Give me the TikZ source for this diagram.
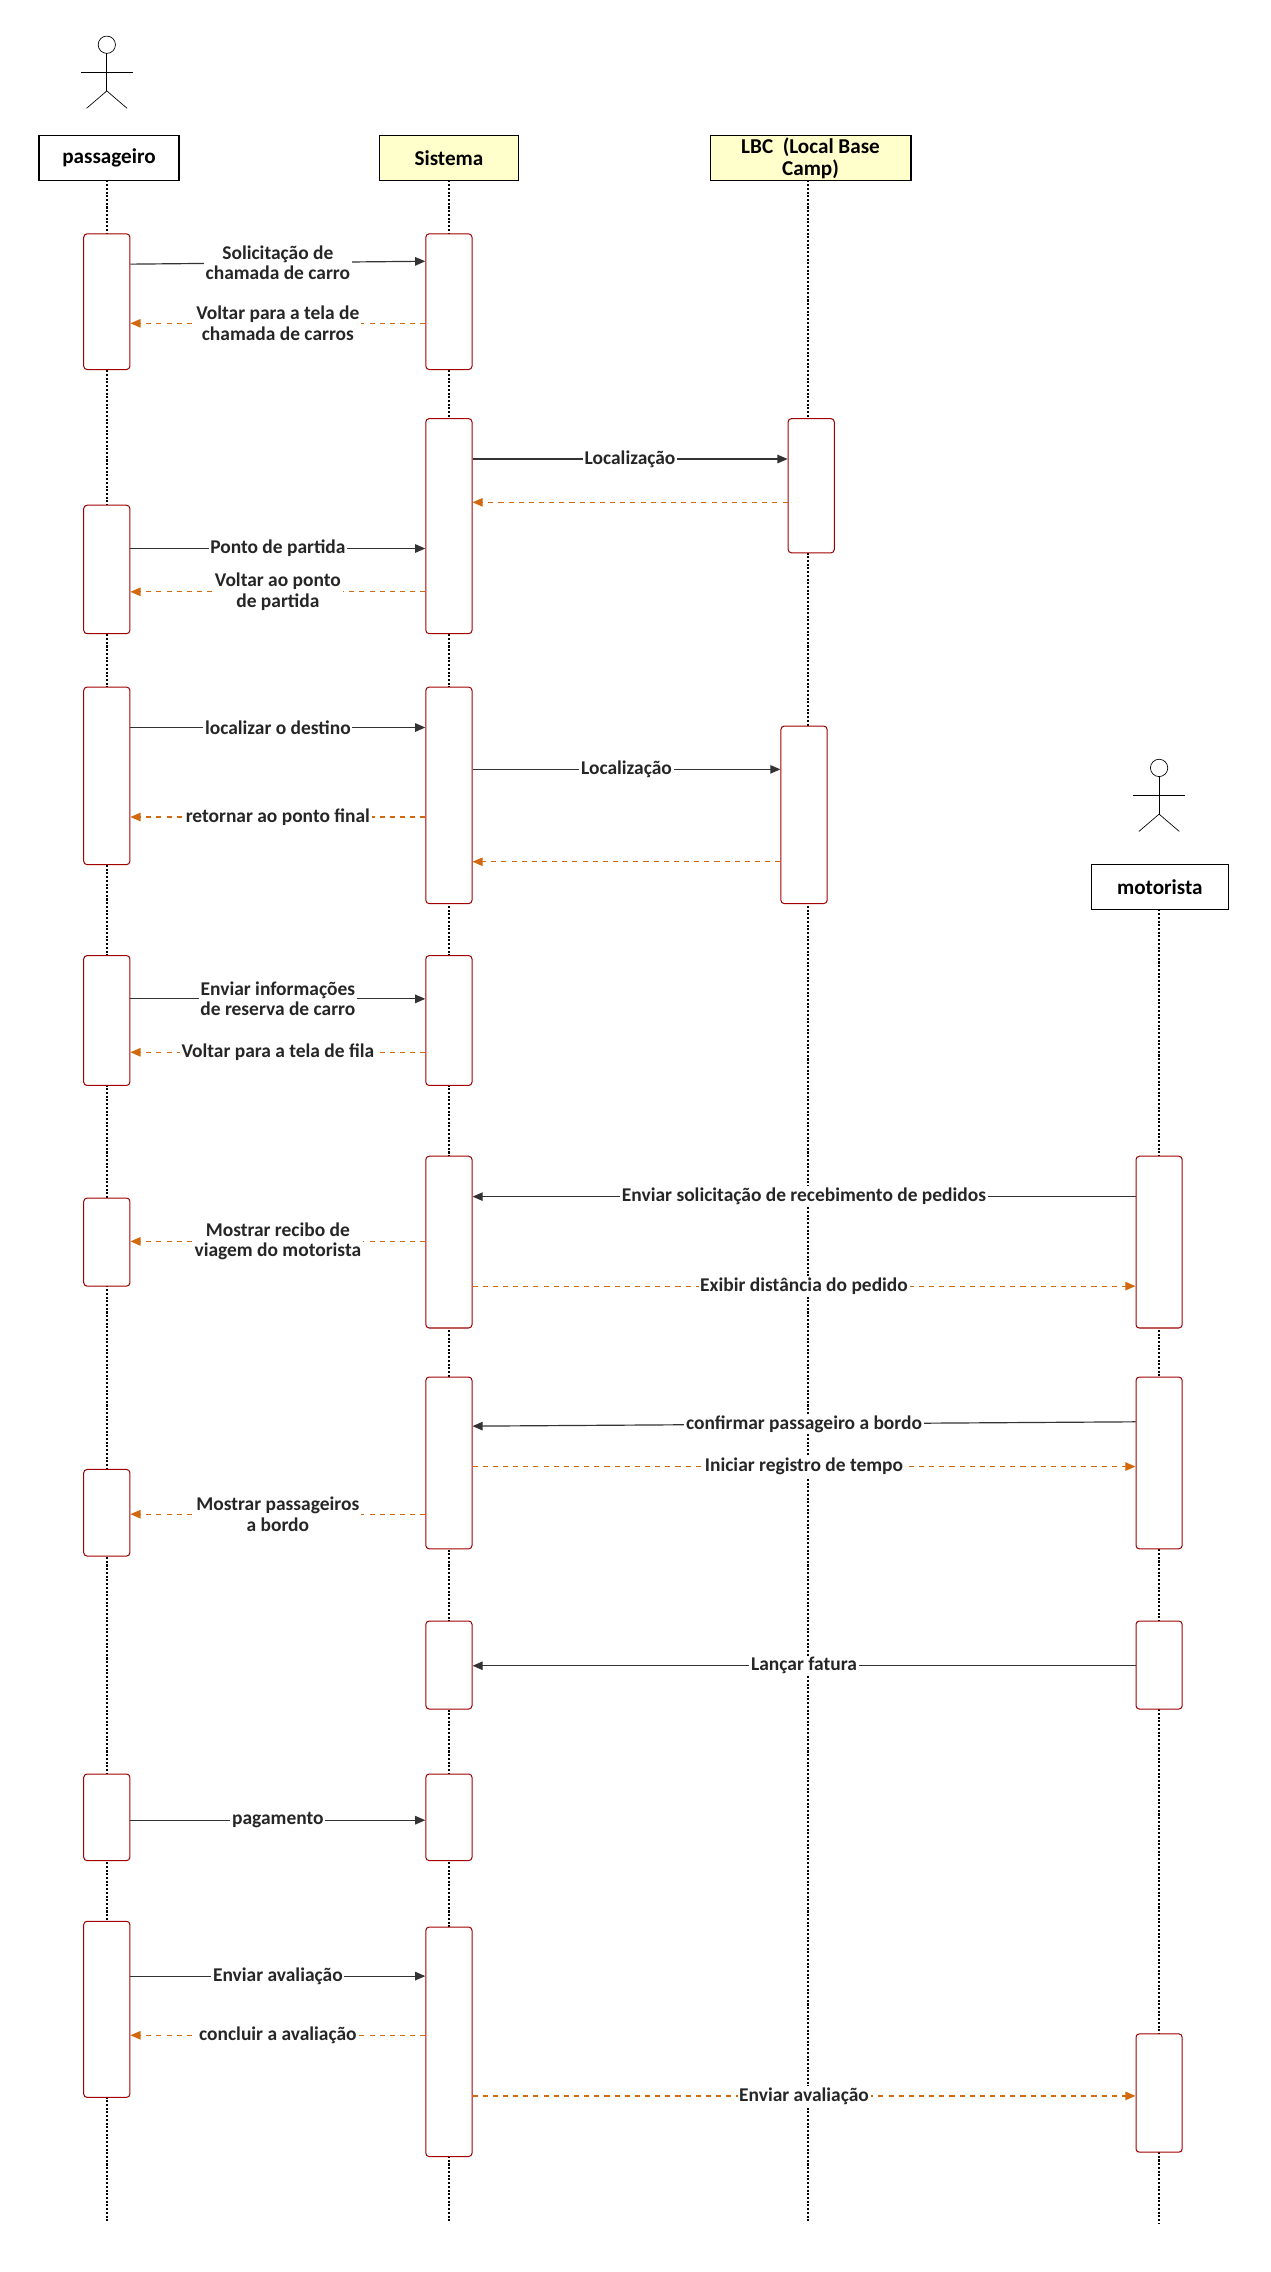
\documentclass[tikz,border=0pt]{standalone}
\usepackage{fontspec}
\setmainfont{Carlito}
\usetikzlibrary{positioning,fit,arrows.meta}

\definecolor{actred}{HTML}{A00000}
\definecolor{retorange}{HTML}{D2690F}
\definecolor{headyellow}{HTML}{FFFFCC}

\tikzset{
  head/.style={draw, thick, inner sep=0pt, minimum width=2.9cm, minimum height=0.93cm, align=center, font=\bfseries\fontsize{12.5}{12}\selectfont},
  act/.style={draw=actred, fill=white, rounded corners=2pt, inner sep=0pt, line width=0.6pt},
  life/.style={densely dotted, line width=1.2pt},
  call/.style={-{Triangle[length=6pt,width=5pt]}, draw=black!80, line width=0.7pt},
  reply/.style={-{Triangle[length=6pt,width=5pt]}, draw=retorange, dashed, line width=0.7pt},
  lbl/.style={fill=white, inner sep=1pt, align=center, font=\bfseries\fontsize{11.5}{12}\selectfont, text=black!85},
}
\newcommand{\actbox}[4]{\node[act, fit={(#2-16,#3) (#2+16,#4)}] (#1) {};}
\newcommand{\stick}[2]{%
  \draw (#1,#2) circle (6);
  \draw (#1,#2+6) -- (#1,#2+32);
  \draw (#1-18,#2+19) -- (#1+18,#2+19);
  \draw (#1-14,#2+44) -- (#1,#2+32) -- (#1+14,#2+44);}

\begin{document}
\begin{tikzpicture}[x=0.03cm,y=-0.03cm]
  \useasboundingbox (0,0) rectangle (880,1574);

  % actors
  \stick{74}{31}
  \stick{803}{532}

  % heads
  \node[head, minimum width=2.91cm] (pass) at (75.5,109.5) {passageiro};
  \node[head, fill=headyellow, minimum width=2.88cm] (sys) at (311,109.5) {Sistema};
  \node[head, fill=headyellow, minimum width=4.17cm, font=\bfseries\fontsize{12.5}{13}\selectfont] (lbc) at (561.5,109.5) {LBC~~(Local Base\\Camp)};
  \node[head, minimum width=2.85cm] (mot) at (803.5,614.5) {motorista};

  % lifelines
  \draw[life] (74,125) -- (74,1540);
  \draw[life] (311,125) -- (311,1540);
  \draw[life] (560,125) -- (560,1540);
  \draw[life] (803,630) -- (803,1540);

  % activations
  \actbox{pa1}{74}{162}{256}
  \actbox{pa2}{74}{350}{439}
  \actbox{pa3}{74}{476}{599}
  \actbox{pa4}{74}{662}{752}
  \actbox{pa5}{74}{830}{891}
  \actbox{pa6}{74}{1018}{1078}
  \actbox{pa7}{74}{1229}{1289}
  \actbox{pa8}{74}{1331}{1453}
  \actbox{sa1}{311}{162}{256}
  \actbox{sa2}{311}{290}{439}
  \actbox{sa3}{311}{476}{626}
  \actbox{sa4}{311}{662}{752}
  \actbox{sa5}{311}{801}{920}
  \actbox{sa6}{311}{954}{1073}
  \actbox{sa7}{311}{1123}{1184}
  \actbox{sa8}{311}{1229}{1289}
  \actbox{sa9}{311}{1335}{1494}
  \actbox{la1}{562}{290}{383}
  \actbox{la2}{557}{503}{626}
  \actbox{ma1}{803}{801}{920}
  \actbox{ma2}{803}{954}{1073}
  \actbox{ma3}{803}{1123}{1184}
  \actbox{ma4}{803}{1409}{1491}

  % messages
  \draw[call] (pa1.east |- 0,183) -- node[lbl] {Solicitação de\\chamada de carro} (sa1.west |- 0,181);
  \draw[reply] (sa1.west |- 0,224) -- node[lbl] {Voltar para a tela de\\chamada de carros} (pa1.east |- 0,224);
  \draw[call] (sa2.east |- 0,318) -- node[lbl] {Localização} (la1.west |- 0,318);
  \draw[reply] (la1.west |- 0,348) -- (sa2.east |- 0,348);
  \draw[call] (pa2.east |- 0,380) -- node[lbl] {Ponto de partida} (sa2.west |- 0,380);
  \draw[reply] (sa2.west |- 0,410) -- node[lbl] {Voltar ao ponto\\de partida} (pa2.east |- 0,410);
  \draw[call] (pa3.east |- 0,504) -- node[lbl] {localizar o destino} (sa3.west |- 0,504);
  \draw[call] (sa3.east |- 0,533) -- node[lbl] {Localização} (la2.west |- 0,533);
  \draw[reply] (sa3.west |- 0,566) -- node[lbl] {retornar ao ponto final} (pa3.east |- 0,566);
  \draw[reply] (la2.west |- 0,597) -- (sa3.east |- 0,597);
  \draw[call] (pa4.east |- 0,692) -- node[lbl] {Enviar informações\\de reserva de carro} (sa4.west |- 0,692);
  \draw[reply] (sa4.west |- 0,729) -- node[lbl] {Voltar para a tela de fila} (pa4.east |- 0,729);
  \draw[call] (ma1.west |- 0,829) -- node[lbl] {Enviar solicitação de recebimento de pedidos} (sa5.east |- 0,829);
  \draw[reply] (sa5.west |- 0,860) -- node[lbl] {Mostrar recibo de\\viagem do motorista} (pa5.east |- 0,860);
  \draw[reply] (sa5.east |- 0,891) -- node[lbl] {Exibir distância do pedido} (ma1.west |- 0,891);
  \draw[call] (ma2.west |- 0,985) -- node[lbl] {confirmar passageiro a bordo} (sa6.east |- 0,988);
  \draw[reply] (sa6.east |- 0,1016) -- node[lbl] {Iniciar registro de tempo} (ma2.west |- 0,1016);
  \draw[reply] (sa6.west |- 0,1049) -- node[lbl] {Mostrar passageiros\\a bordo} (pa6.east |- 0,1049);
  \draw[call] (ma3.west |- 0,1154) -- node[lbl] {Lançar fatura} (sa7.east |- 0,1154);
  \draw[call] (pa7.east |- 0,1261) -- node[lbl] {pagamento} (sa8.west |- 0,1261);
  \draw[call] (pa8.east |- 0,1369) -- node[lbl] {Enviar avaliação} (sa9.west |- 0,1369);
  \draw[reply] (sa9.west |- 0,1410) -- node[lbl] {concluir a avaliação} (pa8.east |- 0,1410);
  \draw[reply] (sa9.east |- 0,1452) -- node[lbl] {Enviar avaliação} (ma4.west |- 0,1452);
\end{tikzpicture}
\end{document}
